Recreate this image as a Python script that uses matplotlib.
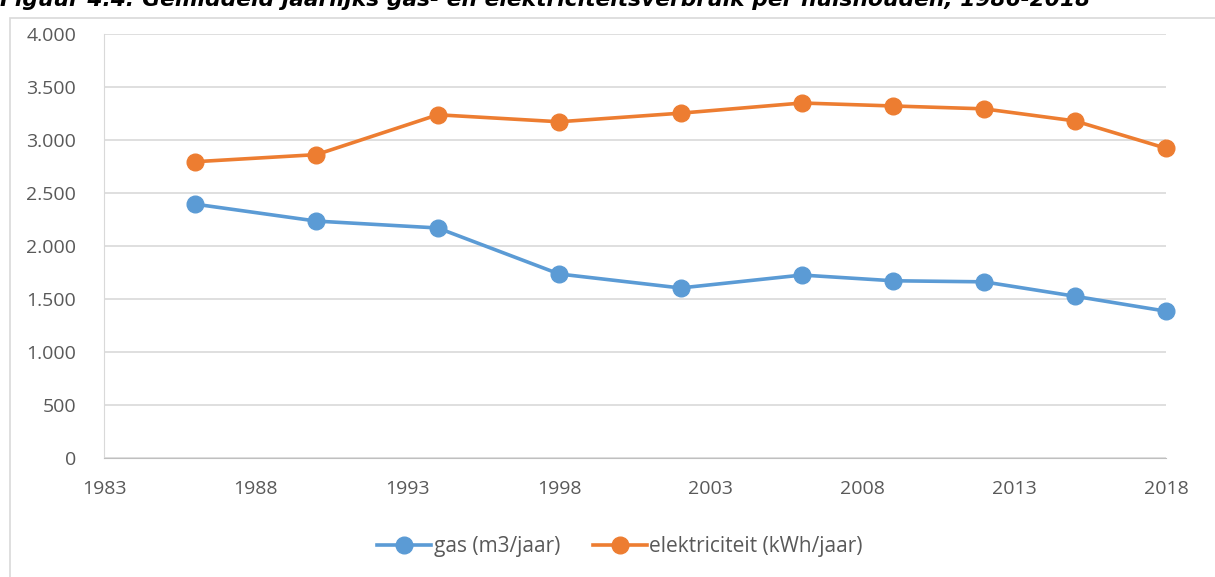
import matplotlib
matplotlib.use("Agg")
import matplotlib.pyplot as plt
from matplotlib.patches import Rectangle
from matplotlib.ticker import FuncFormatter, MultipleLocator

years = [1986, 1990, 1994, 1998, 2002, 2006, 2009, 2012, 2015, 2018]
gas = [2395, 2235, 2170, 1736, 1604, 1726, 1672, 1662, 1526, 1385]
elektriciteit = [2795, 2862, 3238, 3172, 3253, 3349, 3321, 3294, 3180, 2922]
x_ticks = [1983, 1988, 1993, 1998, 2003, 2008, 2013, 2018]

titel = "Figuur 4.4: Gemiddeld jaarlijks gas- en elektriciteitsverbruik per huishouden, 1986-2018"

blauw = "#5B9BD5"
oranje = "#ED7D31"
grijs = "#595959"

plt.rcParams["font.family"] = ["Open Sans", "DejaVu Sans"]

fig = plt.figure(figsize=(12.15, 5.77), dpi=100)

# kader om de grafiek
fig.patches.append(Rectangle((10 / 1215, -0.2), 1.2, 1.2 - 18 / 577,
                             transform=fig.transFigure, fill=False,
                             edgecolor="#d9d9d9", linewidth=1.2))
fig.text(0.0, 1 - 6 / 577, titel, fontsize=15.7, fontweight="bold",
         fontstyle="italic", family="DejaVu Sans", color="black",
         va="baseline", ha="left")

ax = fig.add_axes([104 / 1215, 1 - 458 / 577, (1166 - 104) / 1215, (458 - 34) / 577])

ax.plot(years, gas, color=blauw, linewidth=2.6, marker="o", markersize=12,
        label="gas (m3/jaar)", clip_on=False, zorder=3)
ax.plot(years, elektriciteit, color=oranje, linewidth=2.6, marker="o", markersize=12,
        label="elektriciteit (kWh/jaar)", clip_on=False, zorder=3)

ax.set_xlim(1983, 2018)
ax.set_ylim(0, 4000)
ax.set_xticks(x_ticks)
ax.yaxis.set_major_locator(MultipleLocator(500))
ax.yaxis.set_major_formatter(FuncFormatter(lambda v, p: f"{int(v):,}".replace(",", ".")))

ax.grid(axis="y", color="#d9d9d9", linewidth=1.2)
ax.set_axisbelow(True)
for kant in ["top", "right"]:
    ax.spines[kant].set_visible(False)
ax.spines["left"].set_color("#d9d9d9")
ax.spines["bottom"].set_color("#bfbfbf")
ax.tick_params(length=0, labelsize=14, colors=grijs)
ax.tick_params(axis="x", pad=16)
ax.tick_params(axis="y", pad=20)

ax.legend(loc="upper center", bbox_to_anchor=(0.486, -0.14), ncol=2, frameon=False,
          fontsize=15, labelcolor=grijs, handlelength=2.6, handletextpad=0.1,
          columnspacing=1.6)

fig.savefig("out.png", dpi=100)
